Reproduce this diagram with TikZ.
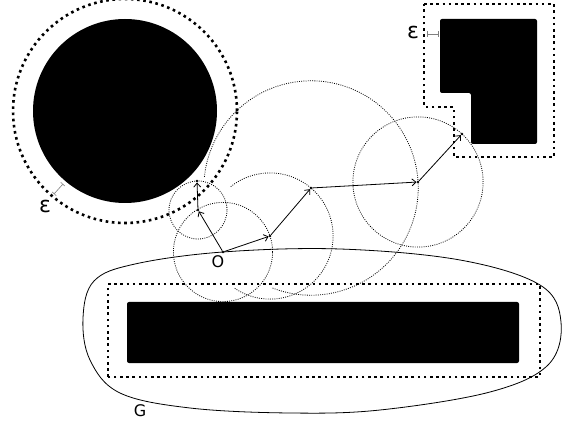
\documentclass[tikz,border=0pt]{standalone}
\usepackage{fontspec}
\setmainfont{DejaVu Sans}
\usepackage{tikz}
\usetikzlibrary{positioning, arrows.meta, calc}

\begin{document}
\begin{tikzpicture}[x=1pt, y=1pt,
    pt/.style={circle, fill=black, inner sep=0pt, minimum size=2.6pt},
    walk/.style={-{Straight Barb[length=4pt, width=7pt]}, line width=0.8pt},
    sphere/.style={line width=0.8pt, black, dash pattern=on 0.9pt off 1.3pt},
    margin/.style={line width=2.6pt, dash pattern=on 2.6pt off 3.6pt},
    obstacle/.style={fill=black, rounded corners=2pt},
    gap/.style={gray, line width=0.6pt, |-|, shorten <=0pt},
    lbl/.style={font=\fontsize{16}{18}\selectfont},
    eps/.style={font=\fontsize{22}{24}\selectfont}]
        \useasboundingbox (0,0) rectangle (564,420);

        % walk points
        \node[pt] (O) at (223,168) {};
        \node[pt] (P1) at (270,184) {};
        \node[pt] (P2) at (311,232) {};
        \node[pt] (P3) at (418,238) {};
        \node[pt] (P4) at (462,286) {};
        \node[pt] (Q1) at (198,210) {};
        \node[pt] (Q2) at (197,239) {};

        % spheres of the walk
        \draw[sphere] (O) circle[radius=49.6];
        \draw[sphere] (Q1) circle[radius=29];
        \draw[sphere] (P3) circle[radius=65.1];
        \draw[sphere] (P1) ++(-124:63.1) arc[start angle=-124, end angle=129, radius=63.1];
        \draw[sphere] (P2) ++(-111:107.2) arc[start angle=-111, end angle=174, radius=107.2];

        % region G
        \draw[line width=0.8pt] plot[smooth cycle, tension=0.6] coordinates {
            (83,102) (94,139) (135,156) (223,168) (340,171) (460,160) (540,135)
            (561,98) (548,55) (490,28) (380,10) (290,7) (190,12) (120,27) (90,60)};

        % obstacles
        \fill[black] (125,309) circle[radius=92];
        \fill[obstacle] (440,401) -- (537,401) -- (537,276) -- (471,276) -- (471,327) -- (440,327) -- cycle;
        \fill[obstacle] (127,57) rectangle (519,118);

        % epsilon margins
        \draw[margin] (125,309) circle[radius=112];
        \draw[margin] (424,416) -- (554,416) -- (554,263) -- (454,263) -- (454,313) -- (424,313) -- cycle;
        \draw[margin] (108,43) rectangle (540,136);

        \coordinate (e1a) at (54,226);
        \coordinate (e1b) at (63,236);
        \coordinate (e2a) at (427,386);
        \coordinate (e2b) at (439,386);
        \draw[gap] (e1a) -- (e1b);
        \draw[gap] (e2a) -- (e2b);
        \node[eps] (eps1) at (45,214) {ε};
        \node[eps] (eps2) at (413,388) {ε};

        % walk on spheres
        \draw[walk] (O) -- (P1);
        \draw[walk] (P1) -- (P2);
        \draw[walk] (P2) -- (P3);
        \draw[walk] (P3) -- (P4);
        \draw[walk] (O) -- (Q1);
        \draw[walk] (Q1) -- (Q2);

        \node[lbl] (Olbl) at (218,158) {O};
        \node[lbl] (Glbl) at (140,9) {G};
      \end{tikzpicture}
\end{document}
